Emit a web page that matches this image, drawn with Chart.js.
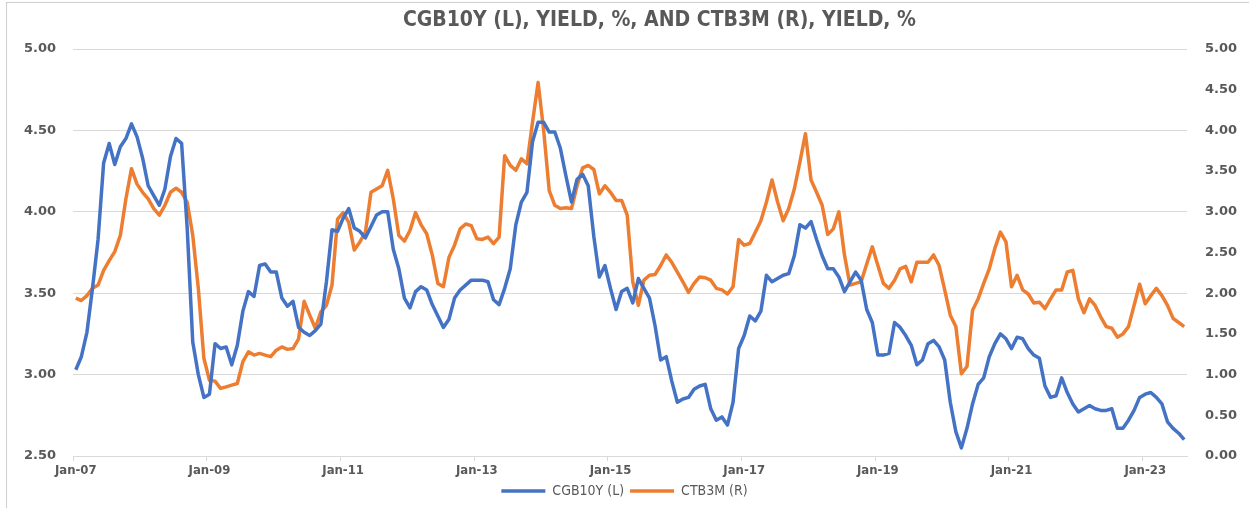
<!DOCTYPE html>
<html><head><meta charset="utf-8">
<script src="https://cdn.jsdelivr.net/npm/chart.js@4.4.1/dist/chart.umd.min.js"></script>
<style>
html,body{margin:0;padding:0;background:#fff;}
#wrap{position:relative;width:1249px;height:508px;overflow:hidden;}
#frame{position:absolute;left:6px;top:2px;right:-2px;bottom:-2px;border-top:1px solid #cfcfcf;border-left:1px solid #cfcfcf;pointer-events:none;}
#title{position:absolute;left:70px;width:1179px;top:7px;text-align:center;white-space:nowrap;
  font-family:"Liberation Sans Narrow","DejaVu Sans Condensed","Arial Narrow","Liberation Sans",sans-serif;
  font-weight:bold;font-size:21px;line-height:24px;color:#595959;}
</style></head><body>
<div id="wrap"><canvas id="c" width="1249" height="508"></canvas><div id="title"></div><div id="frame"></div></div>
<script>
// ---- data ----
const startYear = 2007;
const monthCount = 200; // Jan-07 .. Aug-23
const monthNames = ['Jan','Feb','Mar','Apr','May','Jun','Jul','Aug','Sep','Oct','Nov','Dec'];
const categories = [];
for (let m = 0; m < monthCount; m++) {
  categories.push(monthNames[m % 12] + '-' + String((startYear + Math.floor(m / 12)) % 100).padStart(2, '0'));
}
const labelEvery = 24;

const cgb10y = [
3.03,3.11,3.26,3.53,3.83,4.30,4.42,4.29,4.40,4.45,4.54,4.46,
4.33,4.16,4.10,4.04,4.14,4.34,4.45,4.42,3.90,3.20,3.00,2.86,
2.88,3.19,3.16,3.17,3.06,3.18,3.39,3.51,3.48,3.67,3.68,3.63,
3.63,3.47,3.42,3.45,3.29,3.26,3.24,3.27,3.31,3.57,3.89,3.88,
3.96,4.02,3.90,3.88,3.84,3.91,3.98,4.00,4.00,3.77,3.65,3.47,
3.41,3.51,3.54,3.52,3.43,3.36,3.29,3.34,3.47,3.52,3.55,3.58,
3.58,3.58,3.57,3.46,3.43,3.53,3.65,3.92,4.06,4.12,4.43,4.55,
4.55,4.49,4.49,4.39,4.22,4.06,4.20,4.23,4.16,3.85,3.60,3.67,
3.53,3.40,3.51,3.53,3.44,3.59,3.53,3.47,3.30,3.09,3.11,2.96,
2.83,2.85,2.86,2.91,2.93,2.94,2.79,2.72,2.74,2.69,2.83,3.16,
3.24,3.36,3.33,3.39,3.61,3.57,3.59,3.61,3.62,3.73,3.92,3.90,
3.94,3.83,3.73,3.65,3.65,3.60,3.51,3.57,3.63,3.58,3.40,3.32,
3.12,3.12,3.13,3.32,3.29,3.24,3.18,3.06,3.09,3.19,3.21,3.17,
3.09,2.83,2.65,2.55,2.67,2.82,2.94,2.98,3.11,3.19,3.25,3.22,
3.16,3.23,3.22,3.16,3.12,3.10,2.93,2.86,2.87,2.98,2.89,2.82,
2.77,2.79,2.81,2.79,2.78,2.78,2.79,2.67,2.67,2.72,2.78,2.86,
2.88,2.89,2.86,2.82,2.71,2.67,2.64,2.60
];

const ctb3m = [
1.94,1.91,1.97,2.06,2.10,2.28,2.40,2.51,2.71,3.16,3.53,3.34,
3.24,3.16,3.04,2.96,3.08,3.24,3.29,3.24,3.12,2.71,2.06,1.20,
0.93,0.92,0.83,0.85,0.87,0.89,1.16,1.28,1.24,1.26,1.24,1.22,
1.30,1.34,1.31,1.32,1.44,1.90,1.73,1.57,1.77,1.85,2.10,2.91,
2.99,2.87,2.53,2.63,2.75,3.24,3.28,3.32,3.51,3.16,2.71,2.64,
2.77,2.99,2.84,2.73,2.47,2.12,2.08,2.44,2.59,2.79,2.85,2.83,
2.67,2.66,2.69,2.61,2.69,3.69,3.57,3.51,3.65,3.59,4.10,4.59,
4.00,3.26,3.08,3.04,3.05,3.04,3.32,3.54,3.57,3.52,3.22,3.32,
3.24,3.14,3.14,2.96,2.14,1.85,2.16,2.22,2.23,2.34,2.47,2.38,
2.26,2.14,2.01,2.12,2.20,2.19,2.16,2.06,2.04,1.99,2.08,2.66,
2.59,2.61,2.75,2.89,3.12,3.39,3.12,2.89,3.04,3.28,3.61,3.96,
3.39,3.24,3.08,2.72,2.79,3.00,2.47,2.10,2.12,2.14,2.36,2.57,
2.34,2.12,2.06,2.16,2.30,2.33,2.14,2.38,2.38,2.38,2.47,2.34,
2.04,1.73,1.59,1.01,1.10,1.79,1.93,2.12,2.30,2.55,2.75,2.63,
2.08,2.22,2.04,1.99,1.88,1.89,1.81,1.93,2.04,2.04,2.26,2.28,
1.93,1.76,1.93,1.85,1.71,1.59,1.57,1.46,1.50,1.59,1.85,2.11,
1.87,1.97,2.06,1.97,1.85,1.69,1.64,1.59
];

const leftAxis = { min: 2.5, max: 5.0, step: 0.5 };
const rightAxis = { min: 0.0, max: 5.0, step: 0.5 };
const titleText = 'CGB10Y (L), YIELD, %, AND CTB3M (R), YIELD, %';
const seriesNames = ['CGB10Y (L)', 'CTB3M (R)'];

document.getElementById('title').textContent = titleText;

// ---- chart ----
const gray = '#595959';
const gridGray = '#d9d9d9';
const narrow = '"Liberation Sans Narrow","DejaVu Sans Condensed","Arial Narrow","Liberation Sans",sans-serif';
const wide = '"DejaVu Sans","Verdana",sans-serif';

new Chart(document.getElementById('c'), {
  type: 'line',
  data: {
    labels: categories,
    datasets: [
      { label: seriesNames[0], data: cgb10y, yAxisID: 'yL', borderColor: '#4472C4', backgroundColor: '#4472C4',
        borderWidth: 3.5, pointRadius: 0, tension: 0, pointStyle: 'line', borderJoinStyle: 'round' },
      { label: seriesNames[1], data: ctb3m, yAxisID: 'yR', borderColor: '#ED7D31', backgroundColor: '#ED7D31',
        borderWidth: 3.5, pointRadius: 0, tension: 0, pointStyle: 'line', borderJoinStyle: 'round' }
    ]
  },
  options: {
    responsive: false,
    animation: false,
    events: [],
    layout: { padding: { left: 0, right: 0, top: 49, bottom: 0 } },
    plugins: {
      title: { display: false },
      legend: { position: 'bottom',
        labels: { usePointStyle: true, pointStyleWidth: 44, boxHeight: 6, color: gray, padding: 6,
          font: { family: narrow, size: 14 } } },
      tooltip: { enabled: false }
    },
    scales: {
      x: {
        type: 'category', offset: true,
        grid: { offset: true, drawOnChartArea: false, tickLength: 5,
          color: (c) => (c.index % labelEvery === 0 ? gridGray : 'rgba(0,0,0,0)') },
        border: { color: gridGray, width: 1 },
        ticks: { autoSkip: false, maxRotation: 0, minRotation: 0, color: gray, padding: 2,
          font: { family: narrow, size: 13, weight: 'bold' },
          callback: (v, i) => (i % labelEvery === 0 ? categories[i] : '') },
        afterFit: (s) => { s.height = 22; }
      },
      yL: {
        position: 'left', min: leftAxis.min, max: leftAxis.max,
        ticks: { stepSize: leftAxis.step, color: gray, padding: 17,
          font: { family: wide, size: 13, weight: 'bold' }, callback: (v) => Number(v).toFixed(2) },
        grid: { color: gridGray, drawTicks: false, lineWidth: 1 },
        border: { display: false },
        afterFit: (s) => { s.width = 73; }
      },
      yR: {
        position: 'right', min: rightAxis.min, max: rightAxis.max,
        ticks: { stepSize: rightAxis.step, color: gray, padding: 18,
          font: { family: wide, size: 13, weight: 'bold' }, callback: (v) => Number(v).toFixed(2) },
        grid: { drawOnChartArea: false, drawTicks: false },
        border: { display: false },
        afterFit: (s) => { s.width = 62; }
      }
    }
  }
});
</script>
</body></html>
